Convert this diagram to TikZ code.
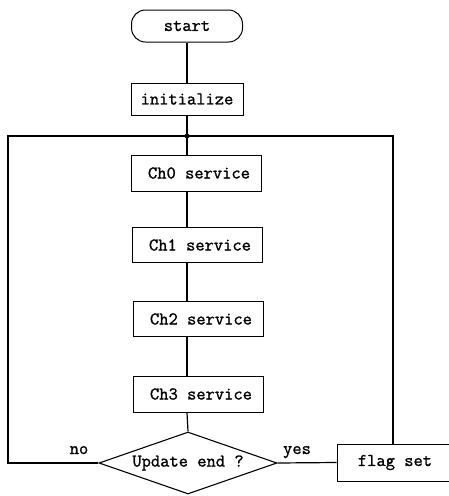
\documentclass[tikz,border=0pt]{standalone}
\usepackage{fontspec}
\setmonofont[FakeBold=1.2]{Latin Modern Mono}
\usetikzlibrary{shapes.geometric}
\begin{document}
\begin{tikzpicture}[x=1pt,y=-1pt,
  every node/.style={font=\fontsize{18}{21}\selectfont\ttfamily},
  proc/.style={draw,line width=1pt,rectangle,inner sep=0pt,minimum width=130pt,minimum height=36pt},
  term/.style={draw,line width=1pt,rectangle,rounded corners=14pt,inner sep=0pt,minimum width=111pt,minimum height=32pt},
  decide/.style={draw,line width=1.1pt,diamond,aspect=2.87,inner sep=0pt,minimum width=178pt,minimum height=62pt},
  flow/.style={line width=1.2pt},
  lbl/.style={anchor=base,inner sep=0pt}]
\useasboundingbox (0,0) rectangle (448,496);

% main column
\node[term] (start) at (187,26) {start};
\node[proc,minimum width=112pt,minimum height=32pt] (init) at (187,99) {initialize};
\coordinate (j) at (187,136);
\node[proc] (ch0) at (196,173) {\hspace*{6pt}Ch0 service};
\node[proc,minimum height=35pt] (ch1) at (197,245) {\hspace*{6pt}Ch1 service};
\node[proc,minimum height=35pt] (ch2) at (198,319) {\hspace*{6pt}Ch2 service};
\node[proc] (ch3) at (198,394) {\hspace*{6pt}Ch3 service};
\node[decide] (dec) at (188,463) {Update end ?};

% flag box runs off the right edge
\node[proc,minimum width=120pt,minimum height=37pt] (flag) at (397,462.5) {\hspace*{-4pt}flag set};

% return path corners
\coordinate (cl) at (8,136);
\coordinate (cr) at (393,136);

\draw[flow] (start.south) -- (init.north);
\draw[flow] (init.south) -- (j);
\draw[flow] (j) -- (j |- ch0.north);
\draw[flow] (j |- ch0.south) -- (j |- ch1.north);
\draw[flow] (j |- ch1.south) -- (j |- ch2.north);
\draw[flow] (j |- ch2.south) -- (j |- ch3.north);
\draw[flow] (j |- ch3.south) -- (dec.north);
\draw[flow] (dec.west) -| (cl) -- (j);
\draw[flow] (dec.east) -- (flag.west);
\draw[flow] (cr |- flag.north) -- (cr) -- (j);
\fill (j) circle (2.4pt);

\node[lbl] (no) at (79,454) {no};
\node[lbl] (yes) at (297,454) {yes};
\end{tikzpicture}
\end{document}
